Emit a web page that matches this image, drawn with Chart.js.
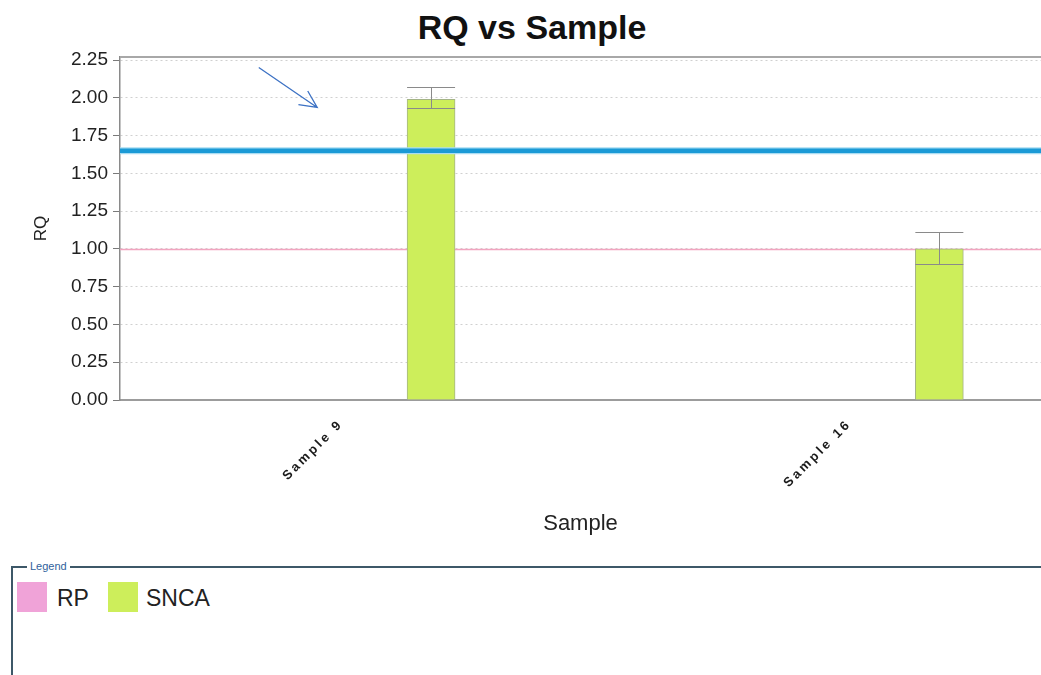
<!DOCTYPE html>
<html>
<head>
<meta charset="utf-8">
<script src="https://cdn.jsdelivr.net/npm/chart.js@4.4.1/dist/chart.umd.min.js"></script>
<style>
  html, body { margin: 0; padding: 0; background: #fff; }
  body { width: 1041px; height: 675px; overflow: hidden; position: relative;
         font-family: "Liberation Sans", Arial, sans-serif; }
  #title { position: absolute; left: 0; top: 7px; width: 1064px; text-align: center;
           font-weight: bold; font-size: 34px; line-height: 40px; color: #111; }
  #wrap { position: absolute; left: 0; top: 0; width: 1041px; height: 545px; }
  #legend { position: absolute; left: 11px; top: 566px; width: 1200px; height: 200px;
            border-top: 2px solid #3d5868; border-left: 2px solid #3d5868; }
  #legend .cap { position: absolute; left: 14px; top: -9px; background: #fff; padding: 0 3px;
                 font-size: 11px; line-height: 14px; color: #2f5f9c; }
  #legend .sw { position: absolute; top: 14px; width: 30px; height: 30px; }
  #legend .lt { position: absolute; top: 14px; font-size: 23px; line-height: 32px; color: #222; }
</style>
</head>
<body>
<div id="title">RQ vs Sample</div>
<div id="wrap"><canvas id="chart"></canvas></div>
<div id="legend">
  <span class="cap">Legend</span>
  <span class="sw" id="swRP" style="left:4px"></span><span class="lt" style="left:44px">RP</span>
  <span class="sw" id="swSNCA" style="left:95px"></span><span class="lt" style="left:133px">SNCA</span>
</div>
<script>
// Samples and relative quantity (RQ) of SNCA, with the RQ min/max range
const samples    = ['Sample 9', 'Sample 16'];
const rqSNCA     = [1.99, 1.00];
const rqMinSNCA  = [1.93, 0.90];
const rqMaxSNCA  = [2.07, 1.11];
// Reference sample (RP) level and threshold line
const rpLevel    = 1.00;
const threshold  = 1.65;
// Y axis tick values
const yTickValues = [0.00, 0.25, 0.50, 0.75, 1.00, 1.25, 1.50, 1.75, 2.00, 2.25];

const COLORS = {
  snca: '#cdee5b', sncaBorder: '#a4b486', rp: '#f0a3d8', rpLine: '#f2a4bf',
  threshold: '#1b9ad6', thresholdHalo: '#a9dcf2', errBar: '#8a8a8a', arrow: '#3d72c4'
};
document.getElementById('swRP').style.background = COLORS.rp;
document.getElementById('swSNCA').style.background = COLORS.snca;

// Annotation arrow, given in data units (x = sample index, y = RQ)
const arrowNote = { from: { x: -0.339, y: 2.20 }, to: { x: -0.224, y: 1.936 } };

const fontFamily = '"Liberation Sans", Arial, sans-serif';

const refLines = {
  id: 'refLines',
  beforeDatasetsDraw(chart) {
    const { ctx, chartArea: a, scales: { y } } = chart;
    const py = Math.round(y.getPixelForValue(rpLevel)) + 0.5;
    ctx.save();
    ctx.strokeStyle = COLORS.rpLine;
    ctx.lineWidth = 1.5;
    ctx.beginPath(); ctx.moveTo(a.left, py); ctx.lineTo(a.right, py); ctx.stroke();
    ctx.restore();
  },
  afterDatasetsDraw(chart) {
    const { ctx, chartArea: a, scales: { y } } = chart;
    // error bars
    const meta = chart.getDatasetMeta(0);
    ctx.save();
    ctx.strokeStyle = COLORS.errBar;
    ctx.lineWidth = 1;
    meta.data.forEach((bar, i) => {
      const half = bar.width / 2;
      const yt = Math.round(y.getPixelForValue(rqMaxSNCA[i])) + 0.5;
      const yb = Math.round(y.getPixelForValue(rqMinSNCA[i])) + 0.5;
      const x = Math.round(bar.x) + 0.5;
      ctx.beginPath();
      ctx.moveTo(bar.x - half, yt); ctx.lineTo(bar.x + half, yt);
      ctx.moveTo(x, yt); ctx.lineTo(x, yb);
      ctx.moveTo(bar.x - half, yb); ctx.lineTo(bar.x + half, yb);
      ctx.stroke();
    });
    // threshold line
    const ty = y.getPixelForValue(threshold);
    ctx.strokeStyle = COLORS.thresholdHalo;
    ctx.lineWidth = 7;
    ctx.beginPath(); ctx.moveTo(a.left, ty); ctx.lineTo(a.right + 5, ty); ctx.stroke();
    ctx.strokeStyle = COLORS.threshold;
    ctx.lineWidth = 4.5;
    ctx.beginPath(); ctx.moveTo(a.left, ty); ctx.lineTo(a.right + 5, ty); ctx.stroke();
    ctx.restore();
  },
  afterDraw(chart) {
    const { ctx, chartArea: a, scales: { x, y } } = chart;
    ctx.save();
    // top frame line
    ctx.strokeStyle = '#a8a8a8';
    ctx.lineWidth = 2;
    ctx.beginPath(); ctx.moveTo(a.left, a.top); ctx.lineTo(a.right, a.top); ctx.stroke();

    // rotated sample labels under each bar
    ctx.fillStyle = '#1a1a1a';
    ctx.font = 'bold 13px ' + fontFamily;
    ctx.letterSpacing = '2.8px';
    ctx.textAlign = 'right';
    ctx.textBaseline = 'middle';
    samples.forEach((s, i) => {
      const px = x.getPixelForValue(i) - 90;
      const py = a.bottom + 22;
      ctx.save();
      ctx.translate(px, py);
      ctx.rotate(-Math.PI / 4);
      ctx.fillText(s, 0, 0);
      ctx.restore();
    });
    ctx.letterSpacing = '0px';

    // annotation arrow
    const x1 = x.getPixelForValue(arrowNote.from.x), y1 = y.getPixelForValue(arrowNote.from.y);
    const x2 = x.getPixelForValue(arrowNote.to.x),   y2 = y.getPixelForValue(arrowNote.to.y);
    const ang = Math.atan2(y2 - y1, x2 - x1);
    const head = 19;
    ctx.strokeStyle = COLORS.arrow;
    ctx.lineWidth = 1.3;
    ctx.beginPath();
    ctx.moveTo(x1, y1); ctx.lineTo(x2, y2);
    ctx.moveTo(x2 - head * Math.cos(ang - 0.45), y2 - head * Math.sin(ang - 0.45));
    ctx.lineTo(x2, y2);
    ctx.lineTo(x2 - head * Math.cos(ang + 0.45), y2 - head * Math.sin(ang + 0.45));
    ctx.stroke();
    ctx.restore();
  }
};

new Chart(document.getElementById('chart'), {
  type: 'bar',
  data: {
    datasets: [{
      label: 'SNCA',
      data: samples.map((s, i) => ({ x: i, y: rqSNCA[i] })),
      backgroundColor: COLORS.snca,
      borderColor: COLORS.sncaBorder,
      borderWidth: 1,
      barThickness: 48
    }]
  },
  options: {
    responsive: true,
    maintainAspectRatio: false,
    animation: false,
    layout: { padding: { top: 57, left: 0, right: 0, bottom: 0 } },
    plugins: { legend: { display: false }, tooltip: { enabled: false }, title: { display: false } },
    scales: {
      x: {
        type: 'linear',
        offset: false,
        min: -0.612,
        max: 1.2,
        afterBuildTicks(scale) { scale.ticks = samples.map((s, i) => ({ value: i })); },
        afterFit(scale) { scale.height = 145; },
        ticks: { display: false },
        grid: { display: false },
        border: { display: true, color: '#9c9c9c', width: 2 },
        title: {
          display: true, text: 'Sample', color: '#222',
          font: { family: fontFamily, size: 22 },
          padding: { top: 0, bottom: 8 }
        }
      },
      y: {
        min: 0,
        max: 2.27,
        afterBuildTicks(scale) { scale.ticks = yTickValues.map(v => ({ value: v })); },
        afterFit(scale) { scale.width = 120; },
        ticks: {
          color: '#222',
          font: { family: fontFamily, size: 19 },
          padding: 5,
          callback: v => Number(v).toFixed(2)
        },
        grid: {
          color: '#d0d0d0',
          lineWidth: 1,
          tickLength: 7,
          tickColor: '#7a7a7a',
          tickBorderDash: []
        },
        border: { display: true, color: '#8a8a8a', width: 1.5, dash: [2, 3] },
        title: {
          display: true, text: 'RQ', color: '#222',
          font: { family: fontFamily, size: 17 },
          padding: { top: 31, bottom: 0 }
        }
      }
    }
  },
  plugins: [refLines]
});
</script>
</body>
</html>
